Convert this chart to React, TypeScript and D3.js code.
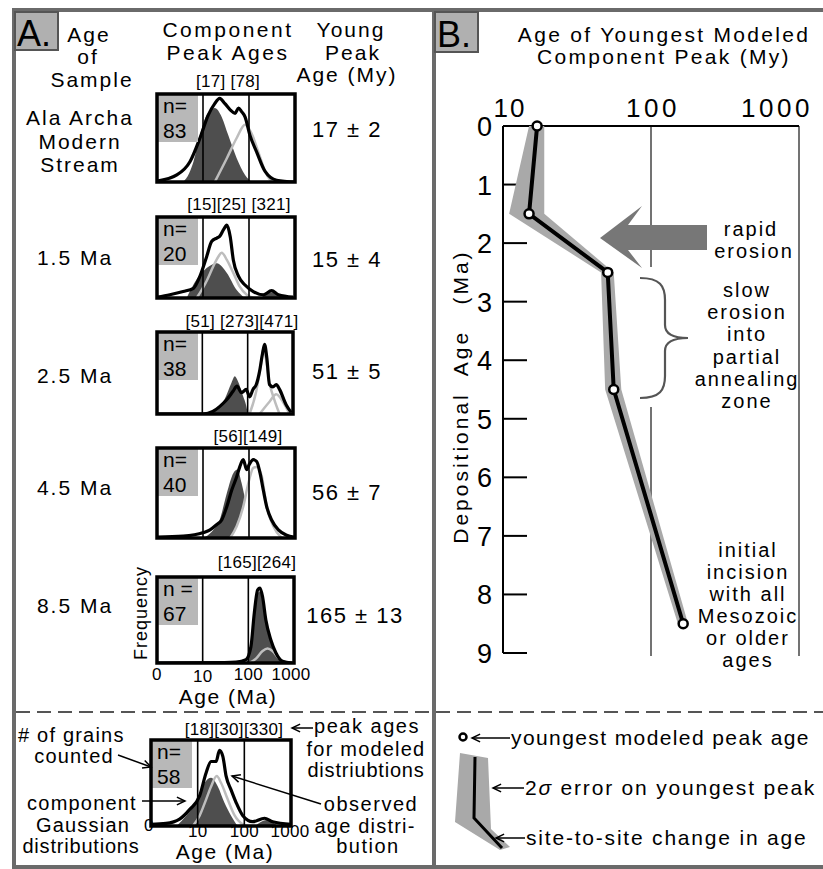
import React, { useRef, useEffect } from 'react'
import * as d3 from 'd3'

type Pt = [number, number]

const FONT = 'Liberation Sans, Arial, Helvetica, sans-serif'

// ---- panel A: one row per sample ----
const sampleNames = [['Ala Archa', 'Modern', 'Stream'], ['1.5 Ma'], ['2.5 Ma'], ['4.5 Ma'], ['8.5 Ma']]
const countPrefix = ['n=', 'n=', 'n=', 'n=', 'n =']
const grainCounts = ['83', '20', '38', '40', '67']
const peakLabels = ['[17] [78]', '[15][25] [321]', '[51] [273][471]', '[56][149]', '[165][264]']
const freqTicks = [1, 10, 100, 1000]
const freqTickLabels = ['0', '10', '100', '1000']

// observed age distributions (age Ma, relative frequency)
const obsAlaArcha: Pt[] = [[1, 0.01], [2.7, 0.08], [5.2, 0.23], [8.6, 0.5], [13, 0.76], [18, 0.89], [23, 0.95], [30, 0.89], [39, 0.82], [50, 0.78], [59, 0.84], [69, 0.8], [82, 0.74], [105, 0.53], [147, 0.34], [224, 0.12], [400, 0.02], [1000, 0]]
const obs15: Pt[] = [[1, 0.01], [1.9, 0.04], [3.7, 0.08], [6.2, 0.12], [8.6, 0.27], [12, 0.51], [15.5, 0.7], [20, 0.74], [23, 0.76], [27.7, 0.84], [33, 0.9], [39, 0.76], [45.6, 0.47], [59, 0.27], [82, 0.16], [124, 0.08], [205, 0.04], [310, 0.09], [436, 0.04], [910, 0.01]]
const obs25: Pt[] = [[1, 0], [10.4, 0], [17, 0.03], [24, 0.09], [34, 0.17], [48, 0.28], [58, 0.34], [73, 0.26], [93, 0.3], [110, 0.21], [131, 0.3], [155, 0.36], [183, 0.52], [210, 0.72], [236, 0.85], [265, 0.68], [303, 0.36], [360, 0.33], [427, 0.36], [505, 0.3], [710, 0.11], [910, 0.02]]
const obs45: Pt[] = [[1, 0.01], [3.7, 0.02], [10.2, 0.06], [14.2, 0.09], [20, 0.15], [25.5, 0.2], [33, 0.35], [42, 0.53], [54, 0.68], [63, 0.79], [75, 0.87], [89, 0.76], [102, 0.82], [124, 0.87], [147, 0.85], [174, 0.72], [205, 0.53], [242, 0.35], [310, 0.2], [436, 0.09], [660, 0.03], [950, 0.01]]
const obs85: Pt[] = [[1, 0], [30, 0.005], [54, 0.01], [89, 0.04], [114, 0.19], [135, 0.58], [160, 0.85], [180, 0.87], [205, 0.77], [242, 0.5], [310, 0.27], [400, 0.12], [560, 0.02], [920, 0]]
const obsKey: Pt[] = [[1, 0.02], [2.1, 0.03], [4.1, 0.08], [6.7, 0.19], [11, 0.35], [15.2, 0.62], [19.4, 0.75], [24.9, 0.75], [29.3, 0.88], [34.6, 0.81], [40.7, 0.58], [52, 0.42], [67, 0.27], [93, 0.12], [151, 0.05], [270, 0.09], [405, 0.05], [1000, 0.02]]

// modeled component gaussians
const darkAlaArcha: Pt[] = [[3.7, 0], [5, 0.1], [6.2, 0.23], [8.6, 0.53], [12, 0.76], [18, 0.84], [25.5, 0.74], [35.5, 0.53], [54, 0.27], [82, 0.08], [114, 0]]
const lightAlaArcha: Pt[] = [[18, 0], [33, 0.27], [54, 0.5], [82, 0.65], [114, 0.55], [160, 0.34], [224, 0.12], [310, 0]]
const dark15: Pt[] = [[4.4, 0], [7.3, 0.23], [12, 0.37], [20, 0.43], [33, 0.31], [54, 0.1], [82, 0]]
const light15: Pt[] = [[7.3, 0], [12, 0.21], [16.7, 0.39], [21.5, 0.51], [25.5, 0.56], [33, 0.47], [45.6, 0.31], [63, 0.14], [89, 0.04], [124, 0]]
const minor15: Pt[] = [[180, 0], [320, 0.07], [560, 0]]
const dark25: Pt[] = [[12.3, 0], [20.5, 0.07], [31, 0.18], [44, 0.38], [52, 0.46], [61, 0.4], [79, 0.22], [93, 0.1], [101, 0]]
const light25a: Pt[] = [[110, 0], [155, 0.28], [195, 0.6], [222, 0.8], [252, 0.68], [303, 0.38], [390, 0.17], [505, 0]]
const light25b: Pt[] = [[183, 0], [303, 0.15], [427, 0.24], [597, 0.15], [840, 0]]
const dark45: Pt[] = [[10.2, 0], [15.5, 0.07], [23, 0.2], [33, 0.5], [45.6, 0.72], [56, 0.76], [69, 0.61], [89, 0.35], [114, 0.13], [147, 0]]
const light45: Pt[] = [[39, 0], [54, 0.13], [75, 0.35], [97, 0.61], [124, 0.78], [147, 0.79], [189, 0.69], [242, 0.35], [338, 0.13], [515, 0]]
const dark85: Pt[] = [[89, 0], [114, 0.17], [135, 0.54], [160, 0.81], [180, 0.83], [205, 0.73], [242, 0.46], [310, 0.25], [400, 0.09], [560, 0]]
const light85: Pt[] = [[105, 0], [147, 0.05], [205, 0.14], [264, 0.17], [338, 0.14], [470, 0.05], [660, 0]]
const darkKey: Pt[] = [[3.5, 0], [5.7, 0.12], [9.3, 0.27], [14, 0.5], [19.4, 0.56], [27, 0.46], [37.5, 0.27], [52, 0.12], [72, 0]]
const lightKey: Pt[] = [[7.9, 0], [11, 0.12], [15.2, 0.31], [19.4, 0.46], [25.6, 0.58], [31.8, 0.5], [44, 0.31], [61, 0.13], [93, 0.02], [120, 0]]
const minorKey: Pt[] = [[170, 0], [300, 0.07], [520, 0]]

// ---- panel B ----
const depositionalAge = [0, 1.5, 2.5, 4.5, 8.5]
const youngPeak = [17, 15, 51, 56, 165]
const youngErr = [2, 4, 5, 7, 13]
const depthTicks = [0, 1, 2, 3, 4, 5, 6, 7, 8, 9]
const ageTicks = [10, 100, 1000]

const App = () => {
  const ref = useRef<SVGSVGElement>(null)

  useEffect(() => {
    const svg = d3.select(ref.current)
    svg.selectAll('*').remove()

    const text = (x: number, y: number, s: string, size = 21, anchor = 'middle', ls = 2) =>
      svg.append('text')
        .attr('x', x).attr('y', y)
        .attr('font-size', size)
        .attr('text-anchor', anchor)
        .attr('letter-spacing', ls)
        .attr('font-family', FONT)
        .style('white-space', 'pre')
        .text(s)

    const arrow = (x1: number, y1: number, x2: number, y2: number) => {
      svg.append('line').attr('x1', x1).attr('y1', y1).attr('x2', x2).attr('y2', y2)
        .attr('stroke', 'black').attr('stroke-width', 1.5)
      const a = Math.atan2(y2 - y1, x2 - x1)
      const h = 9
      const pts: Pt[] = [
        [x2 - h * Math.cos(a - 0.45), y2 - h * Math.sin(a - 0.45)],
        [x2, y2],
        [x2 - h * Math.cos(a + 0.45), y2 - h * Math.sin(a + 0.45)]
      ]
      svg.append('path').attr('d', d3.line()(pts)).attr('fill', 'none')
        .attr('stroke', 'black').attr('stroke-width', 1.5)
    }

    // frame
    svg.append('rect').attr('x', 14).attr('y', 10).attr('width', 830).attr('height', 857)
      .attr('fill', 'none').attr('stroke', '#6a6a6a').attr('stroke-width', 4)
    svg.append('line').attr('x1', 434).attr('x2', 434).attr('y1', 10).attr('y2', 869)
      .attr('stroke', '#6a6a6a').attr('stroke-width', 4)
    svg.append('line').attr('x1', 16).attr('x2', 823).attr('y1', 712).attr('y2', 712)
      .attr('stroke', '#555').attr('stroke-width', 2).attr('stroke-dasharray', '14,7')

    // panel letters
    svg.append('rect').attr('x', 15).attr('y', 12).attr('width', 43).attr('height', 38)
      .attr('fill', '#b0b0b0').attr('stroke', '#555').attr('stroke-width', 2)
    text(17, 46, 'A.', 36, 'start', 0)
    svg.append('rect').attr('x', 435).attr('y', 12).attr('width', 43).attr('height', 40)
      .attr('fill', '#b0b0b0').attr('stroke', '#555').attr('stroke-width', 2)
    text(437, 47, 'B.', 36, 'start', 0)

    // panel A headers
    text(89, 42, 'Age'); text(88, 64, 'of'); text(92, 87, 'Sample')
    text(228, 37, 'Component', 21, 'middle', 2.5); text(228, 60, 'Peak Ages', 21, 'middle', 2.5)
    text(351, 37, 'Young'); text(353, 60, 'Peak'); text(347, 82, 'Age (My)')

    const rows = [
      { left: 157, right: 295, top: 94, bottom: 182, nameY: 125, valY: 137, valX: 347, peakX: 228, peakY: 87 },
      { left: 157, right: 295, top: 217, bottom: 298, nameY: 265, valY: 267, valX: 347, peakX: 239, peakY: 210 },
      { left: 157, right: 293, top: 332, bottom: 414, nameY: 383, valY: 379, valX: 347, peakX: 242, peakY: 327 },
      { left: 157, right: 295, top: 448, bottom: 538, nameY: 495, valY: 500, valX: 347, peakX: 248, peakY: 442 },
      { left: 157, right: 294, top: 577, bottom: 663, nameY: 613, valY: 623, valX: 355, peakX: 257, peakY: 568 }
    ]
    const observed = [obsAlaArcha, obs15, obs25, obs45, obs85]
    const darkComps = [[darkAlaArcha], [dark15, minor15], [dark25], [dark45], [dark85]]
    const lightComps = [[lightAlaArcha], [light15], [light25a, light25b], [light45], [light85]]

    const drawDist = (i: string, b: any, prefix: string, n: string, obs: Pt[], dark: Pt[][], light: Pt[][], whiteFill: boolean) => {
      const x = d3.scaleLog().domain([1, 1000]).range([b.left, b.right])
      const y = d3.scaleLinear().domain([0, 1]).range([b.bottom, b.top])
      svg.append('clipPath').attr('id', 'clip' + i).append('rect')
        .attr('x', b.left).attr('y', b.top).attr('width', b.right - b.left).attr('height', b.bottom - b.top)
      const g = svg.append('g').attr('clip-path', `url(#clip${i})`)

      svg.append('rect').attr('x', b.left + 1).attr('y', b.top + 1).attr('width', 40).attr('height', 47)
        .attr('fill', '#b8b8b8')
      text(b.left + 6, b.top + 19, prefix, 21, 'start', 0)
      text(b.left + 6, b.top + 44, n, 21, 'start', 0)

      const area = d3.area<Pt>().x(d => x(d[0])).y0(y(0)).y1(d => y(d[1])).curve(d3.curveMonotoneX)
      const line = d3.line<Pt>().x(d => x(d[0])).y(d => y(d[1])).curve(d3.curveMonotoneX)
      dark.forEach(c => g.append('path').attr('d', area(c)).attr('fill', '#4e4e4e'))
      light.forEach(c => {
        if (whiteFill) g.append('path').attr('d', area(c)).attr('fill', 'white')
        g.append('path').attr('d', line(c)).attr('fill', 'none').attr('stroke', '#bdbdbd').attr('stroke-width', 2.5)
      })
      ;[10, 100].forEach(v => {
        svg.append('line').attr('x1', x(v)).attr('x2', x(v)).attr('y1', b.top).attr('y2', b.bottom)
          .attr('stroke', 'black').attr('stroke-width', 1.6)
      })
      g.append('path').attr('d', line(obs)).attr('fill', 'none').attr('stroke', 'black')
        .attr('stroke-width', 3.2).attr('stroke-linejoin', 'round')
      svg.append('rect').attr('x', b.left).attr('y', b.top).attr('width', b.right - b.left).attr('height', b.bottom - b.top)
        .attr('fill', 'none').attr('stroke', 'black').attr('stroke-width', 3.5)
      return x
    }

    rows.forEach((b, i) => {
      drawDist(String(i), b, countPrefix[i], grainCounts[i], observed[i], darkComps[i], lightComps[i], i === 3)
      sampleNames[i].forEach((s, j) => text(i === 0 ? 80 : 75, b.nameY + j * 23.5, s))
      text(b.peakX, b.peakY, peakLabels[i], 17, 'middle', 0.3)
      text(b.valX, b.valY, `${youngPeak[i]} ± ${youngErr[i]}`, 22, 'middle', 1.5)
    })

    // frequency / age axis under last sample
    const last = rows[4]
    const xl = d3.scaleLog().domain([1, 1000]).range([last.left, last.right])
    freqTicks.forEach((v, k) => text(xl(v) + (k === 3 ? -3 : 0), k === 1 ? 682 : 680, freqTickLabels[k], 17, 'middle', 0.3))
    text(228, 704, 'Age (Ma)', 21, 'middle', 1.5)
    text(0, 0, 'Frequency', 18, 'middle', 1).attr('transform', 'translate(147,613) rotate(-90)')

    // key plot
    const key = { left: 151, right: 291, top: 740, bottom: 826 }
    const xk = drawDist('k', key, 'n=', '58', obsKey, [darkKey, minorKey], [lightKey], false)
    freqTicks.forEach((v, k) => text(xk(v) + (k === 0 ? -2 : k === 3 ? -1 : 0), k === 0 ? 831 : 837, freqTickLabels[k], 17, 'middle', 0.3))
    text(225, 859, 'Age (Ma)', 21, 'middle', 1.5)
    text(234, 735, '[18][30][330]', 17, 'middle', 0.3)
    text(18, 742, '# of grains', 20, 'start', 1.2)
    text(74, 763, 'counted', 20, 'middle', 1.2)
    text(82, 810, 'component', 20, 'middle', 1.2)
    text(83, 832, 'Gaussian', 20, 'middle', 1.2)
    text(81, 853, 'distributions', 20, 'middle', 0.8)
    text(367, 733, 'peak ages', 20, 'middle', 1.5)
    text(366, 756, 'for modeled', 20, 'middle', 1.2)
    text(366, 777, 'distriubtions', 20, 'middle', 0.8)
    text(371, 811, 'observed', 20, 'middle', 1.5)
    text(365, 833, 'age distri-', 20, 'middle', 1.2)
    text(368, 853, 'bution', 20, 'middle', 1.5)
    arrow(313, 728, 292, 728)
    arrow(118, 755, 151, 767)
    arrow(142, 801, 185, 801)
    arrow(321, 804, 232, 776)

    // ---- panel B ----
    text(664, 42, 'Age of Youngest Modeled', 21, 'middle', 2.3)
    text(664, 64, 'Component Peak (My)', 21, 'middle', 2.3)

    const xB = d3.scaleLog().domain([10, 1000]).range([503, 799])
    const yB = d3.scaleLinear().domain([0, 9]).range([126, 653])

    // reference lines at 100 and 1000
    svg.append('line').attr('x1', xB(100)).attr('x2', xB(100)).attr('y1', yB(0)).attr('y2', 267)
      .attr('stroke', '#444').attr('stroke-width', 1.5)
    svg.append('line').attr('x1', xB(100)).attr('x2', xB(100)).attr('y1', 407).attr('y2', 656)
      .attr('stroke', '#444').attr('stroke-width', 1.5)
    svg.append('line').attr('x1', xB(1000)).attr('x2', xB(1000)).attr('y1', yB(0)).attr('y2', 656)
      .attr('stroke', '#444').attr('stroke-width', 1.5)

    // axes
    svg.append('line').attr('x1', xB(10)).attr('x2', xB(1000)).attr('y1', yB(0)).attr('y2', yB(0))
      .attr('stroke', 'black').attr('stroke-width', 2)
    svg.append('line').attr('x1', xB(10)).attr('x2', xB(10)).attr('y1', yB(0)).attr('y2', yB(9))
      .attr('stroke', 'black').attr('stroke-width', 2)
    depthTicks.forEach(d => {
      if (d > 0) svg.append('line').attr('x1', xB(10)).attr('x2', xB(10) + 24).attr('y1', yB(d)).attr('y2', yB(d))
        .attr('stroke', 'black').attr('stroke-width', 2)
      text(492, yB(d) + 10, String(d), 27, 'end', 0)
    })
    ageTicks.forEach(v => text(xB(v) + (v === 1000 ? -22 : v === 10 ? 7 : 2), 117, String(v), 26, 'middle', v === 10 ? 2 : 3.5))
    // rotated y-axis title, words spread along the axis
    ;[['Depositional', 468], ['Age', 353], ['(Ma)', 277]].forEach(([s, yy]) =>
      text(0, 0, String(s), 21, 'middle', 3).attr('transform', `translate(468,${yy}) rotate(-90)`))

    const idx = d3.range(depositionalAge.length)
    const band = d3.area<number>()
      .y(i => yB(depositionalAge[i]))
      .x0(i => xB(youngPeak[i] - youngErr[i]))
      .x1(i => xB(youngPeak[i] + youngErr[i]))
    svg.append('path').attr('d', band(idx)).attr('fill', '#a9a9a9')
    const trend = d3.line<number>().x(i => xB(youngPeak[i])).y(i => yB(depositionalAge[i]))
    svg.append('path').attr('d', trend(idx)).attr('fill', 'none').attr('stroke', 'black').attr('stroke-width', 4)
    svg.selectAll('circle.peak').data(idx).enter().append('circle')
      .attr('class', 'peak')
      .attr('cx', i => xB(youngPeak[i])).attr('cy', i => yB(depositionalAge[i]))
      .attr('r', 4.5).attr('fill', 'white').attr('stroke', 'black').attr('stroke-width', 2.5)

    // rapid erosion arrow
    svg.append('path')
      .attr('d', 'M600,238 L642,206 L628,225 L707,225 L707,250 L628,250 L642,268 Z')
      .attr('fill', '#777')
    text(751, 236, 'rapid', 20, 'middle', 2)
    text(754, 258, 'erosion', 20, 'middle', 2)

    // bracket
    svg.append('path')
      .attr('d', 'M640,278 C660,278 665,286 665,300 L665,325 C665,333 672,338 688,338 C672,338 665,343 665,351 L665,376 C665,390 660,398 640,398')
      .attr('fill', 'none').attr('stroke', '#555').attr('stroke-width', 2.2)
    ;['slow', 'erosion', 'into', 'partial', 'annealing', 'zone'].forEach((s, k) => text(747, 297 + k * 22.2, s, 20, 'middle', 2))
    ;['initial', 'incision', 'with all', 'Mesozoic', 'or older', 'ages'].forEach((s, k) => text(748, 557 + k * 22, s, 20, 'middle', 2))

    // panel B key
    svg.append('circle').attr('cx', 463).attr('cy', 737).attr('r', 3.5)
      .attr('fill', 'white').attr('stroke', 'black').attr('stroke-width', 2.5)
    arrow(510, 738, 472, 738)
    text(511, 745, 'youngest modeled peak age', 21, 'start', 1.4)
    svg.append('path').attr('d', 'M460,753 L488,758 L491,829 L510,847 L500,850 L455,822 Z').attr('fill', '#a9a9a9')
    svg.append('path').attr('d', 'M475,757 L474,818 L502,848').attr('fill', 'none')
      .attr('stroke', 'black').attr('stroke-width', 3)
    arrow(524, 788, 493, 788)
    const sig = text(525, 795, '', 21, 'start', 1.8)
    sig.append('tspan').text('2')
    sig.append('tspan').attr('font-style', 'italic').text('σ')
    sig.append('tspan').text(' error on youngest peak')
    arrow(525, 838, 496, 838)
    text(526, 845, 'site-to-site change in age', 21, 'start', 1.8)
  }, [])

  return (
    <svg ref={ref} width={823} height={869}
      style={{ position: 'absolute', left: 0, top: 0, background: 'white', display: 'block' }} />
  )
}

export default App
